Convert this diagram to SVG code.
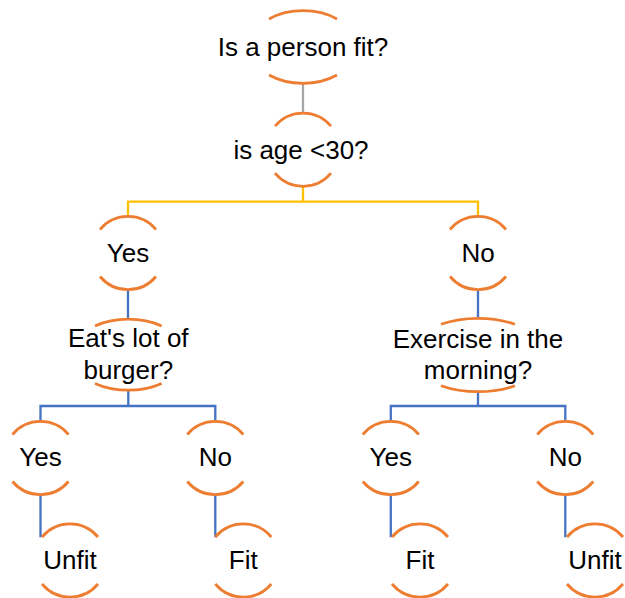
<svg xmlns="http://www.w3.org/2000/svg" width="625" height="598" viewBox="0 0 625 598">
  <style>
    .arc { fill: none; stroke: #ed7d31; stroke-width: 2.75; }
    .lbl { font-family: "Liberation Sans", Arial, sans-serif; font-size: 26px; fill: #000; text-anchor: middle; }
    .gray { fill: none; stroke: #a5a5a5; stroke-width: 2.3; }
    .gold { fill: none; stroke: #ffc000; stroke-width: 2.3; }
    .blue { fill: none; stroke: #4472c4; stroke-width: 2.3; }
  </style>
  <rect width="625" height="598" fill="#ffffff"/>

  <!-- connectors -->
  <g id="connectors">
    <path class="gray" d="M303 83.3 V113.3"/>
    <path class="gold" d="M303 186.2 V201.7 M128 216.5 V201.7 H478 V216.5"/>
    <path class="blue" d="M128 289.5 V318.7 M478 289.5 V318.3"/>
    <path class="blue" d="M128.3 390.7 V406 M40.5 421.7 V406 H215.3 V421.7"/>
    <path class="blue" d="M478 391.7 V406 M390.8 421.7 V406 H565.3 V421.7"/>
    <path class="blue" d="M40.5 494.3 V537.3 M215.3 494.3 V537.3 M390.8 494.3 V537.3 M565.3 494.3 V537.3"/>
  </g>

  <!-- root question -->
  <g id="n-root">
    <path class="arc" d="M269 19 A53.4 36.3 0 0 1 337 19"/>
    <path class="arc" d="M269 75 A53.4 36.3 0 0 0 337 75"/>
    <text class="lbl" x="303" y="55.5">Is a person fit?</text>
  </g>

  <g id="n-age">
    <path class="arc" d="M275 126.2 A36.5 36.5 0 0 1 331 126.2"/>
    <path class="arc" d="M275 173.2 A36.5 36.5 0 0 0 331 173.2"/>
    <text class="lbl" x="301" y="158.8">is age &lt;30?</text>
  </g>

  <g id="n-yes">
    <path class="arc" d="M100 229.5 A36.5 36.5 0 0 1 156 229.5"/>
    <path class="arc" d="M100 276.5 A36.5 36.5 0 0 0 156 276.5"/>
    <text class="lbl" x="128" y="261.5">Yes</text>
  </g>

  <g id="n-no">
    <path class="arc" d="M450 229.5 A36.5 36.5 0 0 1 506 229.5"/>
    <path class="arc" d="M450 276.5 A36.5 36.5 0 0 0 506 276.5"/>
    <text class="lbl" x="478" y="261.5">No</text>
  </g>

  <g id="n-burger">
    <path class="arc" d="M95 326 A57 36 0 0 1 161.6 326"/>
    <path class="arc" d="M95 383.4 A57 36 0 0 0 161.6 383.4"/>
    <text class="lbl" x="128.3" y="347">Eat's lot of</text>
    <text class="lbl" x="128.3" y="379">burger?</text>
  </g>

  <g id="n-exercise">
    <path class="arc" d="M441 324.3 A67.5 36.7 0 0 1 515 324.3"/>
    <path class="arc" d="M441 385.7 A67.5 36.7 0 0 0 515 385.7"/>
    <text class="lbl" x="478" y="347.5">Exercise in the</text>
    <text class="lbl" x="478" y="379">morning?</text>
  </g>

  <!-- burger branch answers -->
  <g id="n-burger-yes">
    <path class="arc" d="M12.5 434.5 A36.5 36.5 0 0 1 68.5 434.5"/>
    <path class="arc" d="M12.5 481.5 A36.5 36.5 0 0 0 68.5 481.5"/>
    <text class="lbl" x="40.5" y="465.5">Yes</text>
  </g>

  <g id="n-burger-no">
    <path class="arc" d="M187.3 434.5 A36.5 36.5 0 0 1 243.3 434.5"/>
    <path class="arc" d="M187.3 481.5 A36.5 36.5 0 0 0 243.3 481.5"/>
    <text class="lbl" x="215.3" y="465.5">No</text>
  </g>

  <!-- exercise branch answers -->
  <g id="n-exercise-yes">
    <path class="arc" d="M362.8 434.5 A36.5 36.5 0 0 1 418.8 434.5"/>
    <path class="arc" d="M362.8 481.5 A36.5 36.5 0 0 0 418.8 481.5"/>
    <text class="lbl" x="390.8" y="465.5">Yes</text>
  </g>

  <g id="n-exercise-no">
    <path class="arc" d="M537.3 434.5 A36.5 36.5 0 0 1 593.3 434.5"/>
    <path class="arc" d="M537.3 481.5 A36.5 36.5 0 0 0 593.3 481.5"/>
    <text class="lbl" x="565.3" y="465.5">No</text>
  </g>

  <!-- outcomes -->
  <g id="n-unfit-1">
    <path class="arc" d="M42 537 A36.5 36.5 0 0 1 98 537"/>
    <path class="arc" d="M42 584 A36.5 36.5 0 0 0 98 584"/>
    <text class="lbl" x="70" y="568.8">Unfit</text>
  </g>

  <g id="n-fit-1">
    <path class="arc" d="M215.3 537 A36.5 36.5 0 0 1 271.3 537"/>
    <path class="arc" d="M215.3 584 A36.5 36.5 0 0 0 271.3 584"/>
    <text class="lbl" x="243.3" y="568.8">Fit</text>
  </g>

  <g id="n-fit-2">
    <path class="arc" d="M392 537 A36.5 36.5 0 0 1 448 537"/>
    <path class="arc" d="M392 584 A36.5 36.5 0 0 0 448 584"/>
    <text class="lbl" x="420" y="568.8">Fit</text>
  </g>

  <g id="n-unfit-2">
    <path class="arc" d="M567 537 A36.5 36.5 0 0 1 623 537"/>
    <path class="arc" d="M567 584 A36.5 36.5 0 0 0 623 584"/>
    <text class="lbl" x="595" y="568.8">Unfit</text>
  </g>
</svg>
